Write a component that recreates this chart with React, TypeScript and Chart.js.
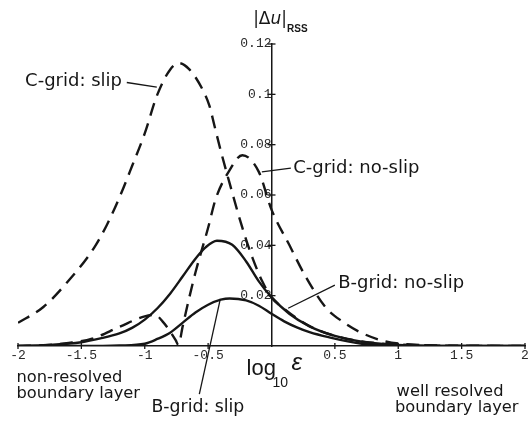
import React, { useEffect, useRef } from 'react';
import { Chart, registerables } from 'chart.js';

Chart.register(...registerables);

// ---- axis ticks ----
const xTicks = [-2, -1.5, -1, -0.5, 0, 0.5, 1, 1.5, 2];
const xTickLabels = ['-2', '-1.5', '-1', '-0.5', '', '0.5', '1', '1.5', '2'];
const yTicks = [0, 0.02, 0.04, 0.06, 0.08, 0.1, 0.12];
const yTickLabels = ['', '0.02', '0.04', '0.06', '0.08', '0.1', '0.12'];

// ---- series (x = log10 eps, y = |du|_RSS) ----
const cSlipX = [-2, -1.8, -1.6, -1.4, -1.3, -1.2, -1.1, -1.0, -0.9, -0.8, -0.73, -0.65, -0.55, -0.49, -0.45, -0.4, -0.335, -0.23, -0.15, -0.073, 0, 0.1, 0.2, 0.3, 0.45, 0.6, 0.8, 1.0, 1.3, 1.6, 2.0];
const cSlipY = [0.0092, 0.0155, 0.026, 0.039, 0.048, 0.059, 0.0715, 0.0845, 0.1, 0.1098, 0.1124, 0.11, 0.1025, 0.0955, 0.0875, 0.0775, 0.0655, 0.047, 0.035, 0.0257, 0.0193, 0.0148, 0.011, 0.0079, 0.0048, 0.0028, 0.0013, 0.0006, 0.0002, 0.0001, 0];

const cNoSlipX = [-2, -1.8, -1.6, -1.415, -1.2, -1.0, -0.92, -0.86, -0.8, -0.755, -0.735, -0.7, -0.65, -0.6, -0.5, -0.44, -0.335, -0.23, -0.1, 0, 0.14, 0.27, 0.43, 0.56, 0.69, 0.9, 1.1, 1.4, 2];
const cNoSlipY = [0, 0.0003, 0.0012, 0.0029, 0.0076, 0.0118, 0.0124, 0.0098, 0.0058, 0.0022, 0.0004, 0.008, 0.019, 0.0292, 0.047, 0.0585, 0.0695, 0.0758, 0.0692, 0.0542, 0.0402, 0.0275, 0.0152, 0.0097, 0.0057, 0.0018, 0.0006, 0.0001, 0];

const bNoSlipX = [-2, -1.75, -1.5, -1.35, -1.2, -1.1, -1.0, -0.9, -0.8, -0.7, -0.6, -0.52, -0.43, -0.31, -0.2, -0.1, 0, 0.14, 0.3, 0.5, 0.7, 1.0, 1.5, 2];
const bNoSlipY = [0, 0.0004, 0.0015, 0.003, 0.005, 0.0072, 0.0105, 0.015, 0.0208, 0.0277, 0.0347, 0.0392, 0.0418, 0.0402, 0.0336, 0.0257, 0.0194, 0.0128, 0.0078, 0.004, 0.0018, 0.0004, 0, 0];

const bSlipX = [-2, -1.5, -1.2, -1.0, -0.9, -0.8, -0.7, -0.6, -0.5, -0.4, -0.33, -0.2, -0.1, 0, 0.1, 0.2, 0.3, 0.45, 0.7, 1.0, 1.5, 2];
const bSlipY = [0, 0, 0.0002, 0.0009, 0.0028, 0.0053, 0.0093, 0.0133, 0.0164, 0.0184, 0.0189, 0.0181, 0.016, 0.0128, 0.0098, 0.0074, 0.0055, 0.0035, 0.001, 0.0002, 0, 0];

const seriesNames = ['C-grid: slip', 'C-grid: no-slip', 'B-grid: no-slip', 'B-grid: slip'];

// ---- annotation placement (in data units) ----
const curveLabels = [
  { text: seriesNames[0], x: -1.944, y: 0.1032, from: [-1.1417, 0.1047], to: [-0.905, 0.1029] },
  { text: seriesNames[1], x: 0.1709, y: 0.0686, from: [0.1527, 0.0707], to: [-0.0762, 0.0692] },
  { text: seriesNames[2], x: 0.526, y: 0.0229, from: [0.5, 0.0242], to: [0.1314, 0.015] },
  { text: seriesNames[3], x: -0.9467, y: -0.0261, from: [-0.5695, -0.0191], to: [-0.4037, 0.0187] },
];
const regionLabels = [
  { text: 'non-resolved', x: -2.0122, y: -0.0142 },
  { text: 'boundary layer', x: -2.0122, y: -0.0208 },
  { text: 'well resolved', x: 0.987, y: -0.0199 },
  { text: 'boundary layer', x: 0.9736, y: -0.0261 },
];
const xTitleAnchor = { x: -0.197, y: -0.0115 };
const yTitleAnchor = { x: -0.1448, y: 0.1281 };

const INK = '#161616';
const SANS = '"DejaVu Sans", sans-serif';

const toPts = (xs: number[], ys: number[]) => xs.map((x, i) => ({ x, y: ys[i] }));

const annotatePlugin = {
  id: 'annotate',
  afterDraw(chart: any) {
    const { ctx, scales } = chart;
    const sx = scales.x;
    const sy = scales.y;
    const px = (v: number) => sx.getPixelForValue(v);
    const py = (v: number) => sy.getPixelForValue(v);
    ctx.save();
    ctx.strokeStyle = INK;
    ctx.fillStyle = INK;
    // crossing tick marks
    ctx.lineWidth = 1.3;
    const x0 = px(0);
    const y0 = py(0);
    xTicks.forEach((v) => {
      if (v === 0) return;
      ctx.beginPath();
      ctx.moveTo(px(v), y0 - 3);
      ctx.lineTo(px(v), y0 + 3);
      ctx.stroke();
    });
    yTicks.forEach((v) => {
      if (v === 0) return;
      ctx.beginPath();
      ctx.moveTo(x0 - 4, py(v));
      ctx.lineTo(x0 + 4, py(v));
      ctx.stroke();
    });
    // leader lines
    ctx.lineWidth = 1.3;
    curveLabels.forEach((l) => {
      ctx.beginPath();
      ctx.moveTo(px(l.from[0]), py(l.from[1]));
      ctx.lineTo(px(l.to[0]), py(l.to[1]));
      ctx.stroke();
    });
    ctx.textAlign = 'left';
    ctx.textBaseline = 'alphabetic';
    curveLabels.forEach((l, i) => {
      ctx.font = `${i === 3 ? 17.3 : 18}px ${SANS}`;
      ctx.fillText(l.text, px(l.x), py(l.y));
    });
    ctx.font = `16.3px ${SANS}`;
    regionLabels.forEach((l) => ctx.fillText(l.text, px(l.x), py(l.y)));

    // x title: log10 eps
    const tx = px(xTitleAnchor.x);
    const ty = py(xTitleAnchor.y);
    ctx.font = '22px "Liberation Sans", sans-serif';
    ctx.fillText('log', tx, ty);
    ctx.font = '14px "Liberation Sans", sans-serif';
    ctx.fillText('10', tx + 26, ty + 12);
    ctx.font = 'italic 24px "Liberation Sans", sans-serif';
    ctx.fillText('\u03b5', tx + 45, ty - 5);

    // y title: |du|_RSS
    const ux = px(yTitleAnchor.x);
    const uy = py(yTitleAnchor.y);
    ctx.font = `17px ${SANS}`;
    let cx = ux;
    ctx.fillText('|\u0394', cx, uy);
    cx += ctx.measureText('|\u0394').width;
    ctx.font = `italic 17px ${SANS}`;
    ctx.fillText('u', cx, uy);
    cx += ctx.measureText('u').width;
    ctx.font = `17px ${SANS}`;
    ctx.fillText('|', cx, uy);
    cx += ctx.measureText('|').width;
    ctx.font = 'bold 10px "Liberation Sans", sans-serif';
    ctx.fillText('RSS', cx, uy + 8);
    ctx.restore();
  },
};

export default function App() {
  const canvasRef = useRef<HTMLCanvasElement | null>(null);

  useEffect(() => {
    const canvas = canvasRef.current;
    if (!canvas) return;
    const common = {
      borderColor: INK,
      borderWidth: 2.4,
      pointRadius: 0,
      fill: false,
      cubicInterpolationMode: 'monotone' as const,
    };
    const chart = new Chart(canvas, {
      type: 'line',
      data: {
        datasets: [
          { label: seriesNames[0], data: toPts(cSlipX, cSlipY), borderDash: [13, 8], ...common },
          { label: seriesNames[1], data: toPts(cNoSlipX, cNoSlipY), borderDash: [13, 8], ...common },
          { label: seriesNames[2], data: toPts(bNoSlipX, bNoSlipY), ...common },
          { label: seriesNames[3], data: toPts(bSlipX, bSlipY), ...common },
        ],
      },
      options: {
        animation: false,
        responsive: false,
        devicePixelRatio: 1,
        layout: { padding: { left: 18, right: 6, top: 44, bottom: 79 } },
        plugins: { legend: { display: false }, tooltip: { enabled: false }, title: { display: false } },
        scales: {
          x: {
            type: 'linear',
            min: -2,
            max: 2,
            position: { y: 0 },
            afterBuildTicks: (s: any) => {
              s.ticks = xTicks.map((v) => ({ value: v }));
            },
            ticks: {
              autoSkip: false,
              maxRotation: 0,
              padding: 2,
              color: '#2a2a2a',
              font: { family: '"Liberation Mono", monospace', size: 13 },
              callback: (v: any) => {
                const i = xTicks.indexOf(Number(v));
                return i >= 0 ? xTickLabels[i] : '';
              },
            },
            grid: { display: false, drawTicks: false },
            border: { display: true, color: INK, width: 1.5 },
          },
          y: {
            type: 'linear',
            min: 0,
            max: 0.12,
            position: { x: 0 },
            afterBuildTicks: (s: any) => {
              s.ticks = yTicks.map((v) => ({ value: v }));
            },
            ticks: {
              autoSkip: false,
              padding: 6,
              color: '#2a2a2a',
              font: { family: '"Liberation Mono", monospace', size: 13 },
              callback: (v: any) => {
                const i = yTicks.findIndex((t) => Math.abs(t - Number(v)) < 1e-9);
                return i >= 0 ? yTickLabels[i] : '';
              },
            },
            grid: { display: false, drawTicks: false },
            border: { display: true, color: INK, width: 1.5 },
          },
        },
      },
      plugins: [annotatePlugin],
    } as any);
    return () => chart.destroy();
  }, []);

  return (
    <div style={{ position: 'fixed', left: 0, top: 0, width: 531, height: 425, background: '#fff' }}>
      <canvas ref={canvasRef} width={531} height={425} style={{ width: 531, height: 425, display: 'block' }} />
    </div>
  );
}
